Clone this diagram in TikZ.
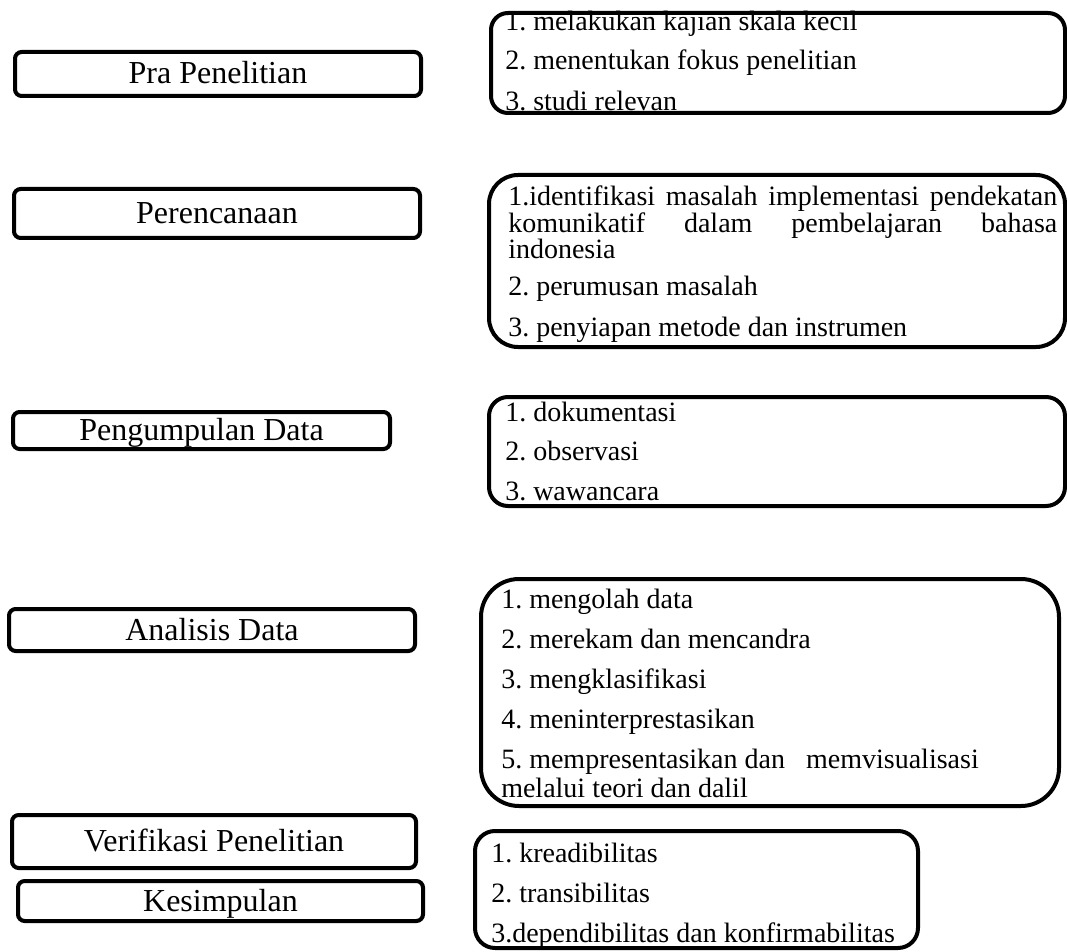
\documentclass[tikz,border=0pt]{standalone}
\usepackage{fontspec}
\setmainfont{Liberation Serif}
\usepackage{tikz}
\frenchspacing

\begin{document}
\begin{tikzpicture}[x=0.75pt, y=-0.75pt,
        stage/.style={draw, line width=3pt, rounded corners=5pt, inner sep=0pt,
            font=\fontsize{24pt}{28pt}\selectfont, text height=15pt, text depth=0pt},
        listbox/.style={draw, line width=3pt, inner sep=0pt},
        item/.style={anchor=base west, inner sep=0pt, font=\fontsize{21pt}{25pt}\selectfont}]
        \useasboundingbox (0,0) rectangle (1067,952);

        \node[stage, minimum width=304.5pt, minimum height=33pt] (pra) at (218,74) {Pra Penelitian};
        \node[stage, minimum width=304.5pt, minimum height=36.75pt] (ren) at (217,213.5) {Perencanaan};
        \node[stage, minimum width=282.75pt, minimum height=27.75pt] (kumpul) at (201.5,430.5) {Pengumpulan Data};
        \node[stage, minimum width=304.5pt, minimum height=31.5pt] (analisis) at (212,630) {Analisis Data};
        \node[stage, minimum width=303pt, minimum height=39.75pt] (verif) at (214,841.5) {Verifikasi Penelitian};
        \node[stage, minimum width=303.75pt, minimum height=30pt] (simpul) at (220.5,901) {Kesimpulan};

        \node[listbox, rounded corners=12.75pt, minimum width=430.5pt, minimum height=75pt] (praList) at (778,63) {};
        \node[listbox, rounded corners=21.75pt, minimum width=432pt, minimum height=129pt] (renList) at (777,261) {};
        \node[listbox, rounded corners=14.25pt, minimum width=432pt, minimum height=81.75pt] (kumpulList) at (777,451.5) {};
        \node[listbox, rounded corners=28.5pt, minimum width=433.5pt, minimum height=170.25pt] (analisisList) at (770,692.5) {};
        \node[listbox, rounded corners=15pt, minimum width=332.25pt, minimum height=87.75pt] (verifList) at (696.5,889.5) {};

        \node[item] (pra1) at (505,31) {1. melakukan kajian skala kecil};
        \node[item] (pra2) at (505,70) {2. menentukan fokus penelitian};
        \node[item] (pra3) at (505,111) {3. studi relevan};

        \node[item] (ren1a) at (508,206) {\makebox[411.75pt][s]{1.identifikasi masalah implementasi pendekatan}};
        \node[item] (ren1b) at (508,233) {\makebox[411.75pt][s]{komunikatif dalam pembelajaran bahasa}};
        \node[item] (ren1c) at (508,259) {indonesia};
        \node[item] (ren2) at (508,296) {2. perumusan masalah};
        \node[item] (ren3) at (508,336) {3. penyiapan metode dan instrumen};

        \node[item] (kumpul1) at (505,421) {1. dokumentasi};
        \node[item] (kumpul2) at (505,460) {2. observasi};
        \node[item] (kumpul3) at (505,500) {3. wawancara};

        \node[item] (analisis1) at (501,608) {1. mengolah data};
        \node[item] (analisis2) at (501,648) {2. merekam dan mencandra};
        \node[item] (analisis3) at (501,688) {3. mengklasifikasi};
        \node[item] (analisis4) at (501,728) {4. meninterprestasikan};
        \node[item] (analisis5a) at (501,768) {5. mempresentasikan dan~~~memvisualisasi};
        \node[item] (analisis5b) at (501,797) {melalui teori dan dalil};

        \node[item] (verif1) at (491,862) {1. kreadibilitas};
        \node[item] (verif2) at (491,902) {2. transibilitas};
        \node[item] (verif3) at (491,942) {3.dependibilitas dan konfirmabilitas};
    \end{tikzpicture}
\end{document}
